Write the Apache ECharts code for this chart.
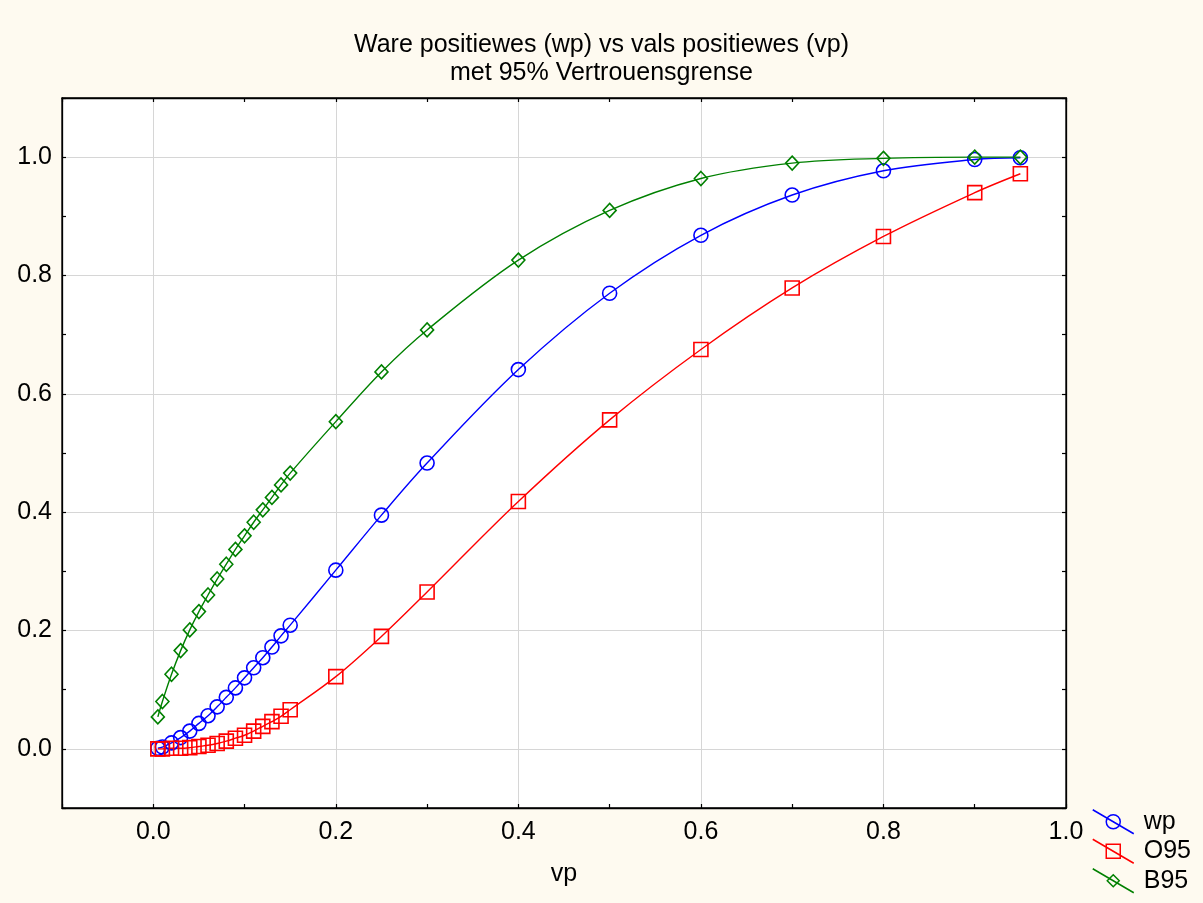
<!DOCTYPE html>
<html>
<head>
<meta charset="utf-8">
<title>Ware positiewes vs vals positiewes</title>
<script src="https://cdn.jsdelivr.net/npm/echarts@6/dist/echarts.min.js"></script>
<style>
  html, body { margin: 0; padding: 0; background: #fefaf0; }
  #chart { width: 1203px; height: 903px; }
</style>
</head>
<body>
<div id="chart"></div>
<script>
// False positive rate (vp) at which each curve is evaluated
const vp = [0.005, 0.01, 0.02, 0.03, 0.04, 0.05, 0.06, 0.07, 0.08, 0.09, 0.10,
            0.11, 0.12, 0.13, 0.14, 0.15, 0.20, 0.25, 0.30, 0.40, 0.50,
            0.60, 0.70, 0.80, 0.90, 0.95];

// True positive rate (wp)
const wp = [0.001, 0.003, 0.010, 0.019, 0.030, 0.043, 0.056, 0.071, 0.087, 0.103, 0.120,
            0.137, 0.154, 0.172, 0.191, 0.209, 0.302, 0.395, 0.483, 0.641, 0.770,
            0.868, 0.936, 0.977, 0.996, 0.999];

// Lower 95% confidence bound
const o95 = [0.000, 0.000, 0.001, 0.001, 0.002, 0.004, 0.006, 0.009, 0.013, 0.018, 0.023,
             0.030, 0.038, 0.046, 0.055, 0.066, 0.122, 0.190, 0.265, 0.418, 0.556,
             0.675, 0.779, 0.866, 0.940, 0.972];

// Upper 95% confidence bound
const b95 = [0.054, 0.080, 0.126, 0.166, 0.201, 0.232, 0.260, 0.287, 0.312, 0.337, 0.360,
             0.383, 0.404, 0.425, 0.446, 0.466, 0.553, 0.637, 0.708, 0.826, 0.910,
             0.964, 0.990, 0.998, 1.000, 1.000];

const seriesNames = ['wp', 'O95', 'B95'];
const titleLines = ['Ware positiewes (wp) vs vals positiewes (vp)', 'met 95% Vertrouensgrense'];
const xAxisName = 'vp';

const FONT = '"Liberation Sans", Arial, sans-serif';
const FS = 25;

const pairs = ys => vp.map((x, i) => [x, ys[i]]);

// legend glyphs: a diagonal stroke crossed by the series marker
const ICON_CIRCLE = 'path://M0 0 L41 24 M27.5 12 A7 7 0 1 1 13.5 12 A7 7 0 1 1 27.5 12 Z';
const ICON_SQUARE = 'path://M0 0 L41 24 M13.5 5 L27.5 5 L27.5 19 L13.5 19 Z';
const ICON_DIAMOND = 'path://M0 0 L41 24 M14.5 12 L20.5 6 L26.5 12 L20.5 18 Z';

const labelFmt = v => (Math.round(v * 10) % 2 === 0 ? v.toFixed(1) : '');

function lineSeries(name, data, color, symbol, size) {
  return {
    name: name,
    type: 'line',
    data: data,
    smooth: 0.35,
    symbol: symbol,
    symbolSize: size,
    showAllSymbol: true,
    lineStyle: { color: color, width: 1.4 },
    itemStyle: { color: 'rgba(0,0,0,0)', borderColor: color, borderWidth: 1.6 },
    emphasis: { disabled: true },
    animation: false
  };
}

const chart = echarts.init(document.getElementById('chart'));

const baseAxis = {
  type: 'value',
  min: -0.1,
  interval: 0.1,
  axisLine: { show: true, onZero: false, lineStyle: { color: '#000', width: 1.3 } },
  axisTick: { show: true, inside: true, length: 4, lineStyle: { color: '#000', width: 1.2 } },
  splitLine: { show: true, lineStyle: { color: ['rgba(0,0,0,0)', '#d6d6d6'], width: 1 } }
};

chart.setOption({
  backgroundColor: '#fefaf0',
  animation: false,
  title: {
    text: titleLines.join('\n'),
    left: 'center',
    top: 26,
    textStyle: { fontFamily: FONT, fontSize: FS, fontWeight: 'normal', color: '#000', lineHeight: 28 }
  },
  grid: {
    left: 62, right: 137, top: 98, bottom: 95,
    show: true, backgroundColor: '#ffffff', borderColor: '#000', borderWidth: 1.3
  },
  legend: {
    orient: 'vertical',
    left: 1092,
    top: 809,
    padding: 0,
    itemWidth: 41,
    itemHeight: 24,
    itemGap: 4,
    selectedMode: false,
    textStyle: { fontFamily: FONT, fontSize: FS, lineHeight: 24, color: '#000', padding: [0, 0, 0, 5] },
    data: [
      { name: seriesNames[0], icon: ICON_CIRCLE, itemStyle: { color: 'rgba(0,0,0,0)', borderColor: '#0000ff', borderWidth: 1.5 } },
      { name: seriesNames[1], icon: ICON_SQUARE, itemStyle: { color: 'rgba(0,0,0,0)', borderColor: '#ff0000', borderWidth: 1.5 } },
      { name: seriesNames[2], icon: ICON_DIAMOND, itemStyle: { color: 'rgba(0,0,0,0)', borderColor: '#008000', borderWidth: 1.5 } }
    ]
  },
  xAxis: [
    Object.assign({}, baseAxis, {
      max: 1.0,
      position: 'bottom',
      name: xAxisName,
      nameLocation: 'middle',
      nameGap: 54,
      nameTextStyle: { fontFamily: FONT, fontSize: FS, color: '#000' },
      axisLabel: { formatter: labelFmt, margin: 12, fontFamily: FONT, fontSize: FS, color: '#000' }
    }),
    Object.assign({}, baseAxis, {
      max: 1.0,
      position: 'top',
      axisLabel: { show: false },
      splitLine: { show: false }
    })
  ],
  yAxis: [
    Object.assign({}, baseAxis, {
      max: 1.1,
      position: 'left',
      axisLabel: { formatter: labelFmt, margin: 10, fontFamily: FONT, fontSize: FS, color: '#000' }
    }),
    Object.assign({}, baseAxis, {
      max: 1.1,
      position: 'right',
      axisLabel: { show: false },
      splitLine: { show: false }
    })
  ],
  series: [
    lineSeries(seriesNames[0], pairs(wp), '#0000ff', 'circle', 14),
    lineSeries(seriesNames[1], pairs(o95), '#ff0000', 'rect', 14),
    lineSeries(seriesNames[2], pairs(b95), '#008000', 'diamond', [13, 14])
  ]
});
</script>
</body>
</html>
